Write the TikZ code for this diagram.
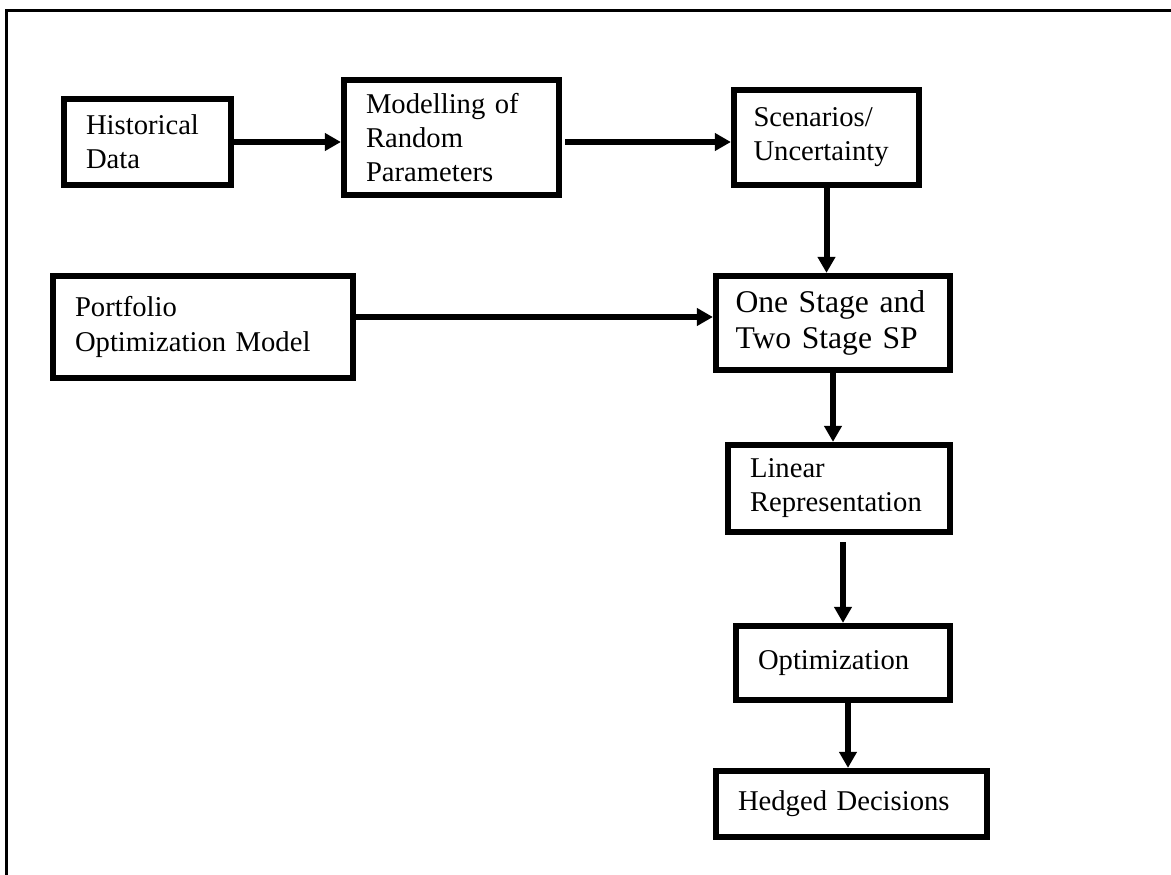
\documentclass[tikz,border=0pt]{standalone}
\usepackage{fontspec}
\setmainfont{Liberation Serif}
\usepackage{tikz}
\usetikzlibrary{arrows.meta,positioning}
\tikzstyle{blk}=[draw, rectangle, line width=0.115cm, inner sep=0pt, align=left, font=\fontsize{16.3}{19.4}\selectfont]
\tikzstyle{big blk}=[blk, font=\fontsize{18}{20.5}\selectfont]
\tikzstyle{arr}=[line width=0.12cm, -{Triangle[length=0.32cm,width=0.34cm]}]

\begin{document}
\begin{tikzpicture}[x=0.02cm, y=-0.02cm]
\useasboundingbox (0,0) rectangle (1171,875);
% frame
\draw[line width=0.05cm] (6.5,875) -- (6.5,10.5) -- (1171,10.5);
%
  \node[blk, minimum width=3.35cm, minimum height=1.73cm, text width=2.46cm] (hist) at (147.5,142) {Historical\\Data};
  \node[blk, minimum width=4.31cm, minimum height=2.31cm, text width=3.42cm] (model) at (451.5,137.5) {Modelling of\\Random\\Parameters};
  \node[blk, minimum width=3.71cm, minimum height=1.91cm, text width=2.92cm] (scen) at (826.5,137.5) {Scenarios/\\Uncertainty};
  \node[blk, minimum width=6.01cm, minimum height=2.05cm, text width=5.12cm] (port) at (203,327) {Portfolio\\Optimization Model};
  \node[big blk, minimum width=4.69cm, minimum height=1.89cm, text width=3.9cm] (sp) at (833,323) {One Stage and\\Two Stage SP};
  \node[blk, minimum width=4.45cm, minimum height=1.75cm, text width=3.56cm] (lin) at (839,488.5) {Linear\\Representation};
  \node[blk, minimum width=4.29cm, minimum height=1.49cm, text width=3.4cm] (opt) at (843,663) {Optimization};
  \node[blk, minimum width=5.43cm, minimum height=1.33cm, text width=4.54cm] (hedge) at (851.5,804) {Hedged Decisions};
%
 \path[arr]
	(hist.east) edge (hist.east -| model.west)
	([xshift=0.06cm]hist.east -| model.east) edge (hist.east -| scen.west)
	(scen.south) edge (scen.south |- sp.north)
	([yshift=0.12cm]sp.west -| port.east) edge ([yshift=0.12cm]sp.west)
	(sp.south) edge (sp.south |- lin.north)
	([yshift=-0.14cm]lin.south -| opt.north) edge (opt.north)
	([xshift=0.1cm]opt.south) edge ([xshift=0.1cm]opt.south |- hedge.north);
%
\end{tikzpicture}
\end{document}
